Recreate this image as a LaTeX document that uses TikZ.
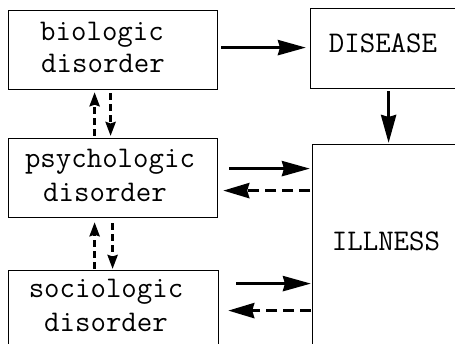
\documentclass[tikz,border=0pt]{standalone}
\usetikzlibrary{arrows.meta}
\begin{document}
\begin{tikzpicture}[x=1pt,y=-1pt,
  box/.style={draw,line width=1.2pt,anchor=north west,inner sep=0pt,minimum width=#1},
  lbl/.style={anchor=base,inner sep=0pt,font=\ttfamily\fontsize{30}{36}\selectfont},
  solidarr/.style={line width=3.5pt,-{Stealth[length=28pt,width=15pt,inset=2pt]}},
  hdash/.style={line width=3.5pt,dash pattern=on 11pt off 6pt,-{Stealth[length=26pt,width=15pt,inset=2pt]}},
  vdash/.style={line width=3pt,dash pattern=on 7pt off 4pt,-{Stealth[length=14pt,width=10pt,inset=1.5pt]}}
]
\useasboundingbox (0,0) rectangle (455,344);
% boxes
\node[box=209pt,minimum height=79pt] (bio) at (8,10) {};
\node[box=160pt,minimum height=80pt] (dis) at (310,8) {};
\node[box=209pt,minimum height=79pt] (psych) at (8,138) {};
\node[box=210pt,minimum height=90pt] (soc) at (8,270) {};
\node[box=160pt,minimum height=216pt] (ill) at (312,144) {};
% labels
\node[lbl] (t1) at (102,41) {biologic};
\node[lbl] (t2) at (103,73) {disorder};
\node[lbl] (t3) at (383,53) {DISEASE};
\node[lbl] (t4) at (110,168) {psychologic};
\node[lbl] (t5) at (105,202) {disorder};
\node[lbl] (t6) at (106,298) {sociologic};
\node[lbl] (t7) at (106,332) {disorder};
\node[lbl] (t8) at (386,251) {ILLNESS};
% connectors
\draw[solidarr] ([shift={(3,-2.5)}]bio.east) -- ([shift={(-4,-1)}]dis.west);
\draw[solidarr] ([shift={(-2,2)}]dis.south) -- ([shift={(-4,-1)}]ill.north);
\draw[vdash] ([shift={(-18.5,-2)}]psych.north) -- ([shift={(-18.5,2)}]bio.south);
\draw[vdash] ([shift={(-2.5,3)}]bio.south) -- ([shift={(-2.5,-2)}]psych.north);
\draw[vdash] ([shift={(-19,-1)}]soc.north) -- ([shift={(-18.5,4)}]psych.south);
\draw[vdash] ([shift={(-0.5,5)}]psych.south) -- ([shift={(-1,-1)}]soc.north);
\draw[solidarr] ([shift={(11,-9.5)}]psych.east) -- ([shift={(-2,-84)}]ill.west);
\draw[hdash] ([shift={(-2,-62)}]ill.west) -- ([shift={(5,12.5)}]psych.east);
\draw[solidarr] ([shift={(17,-32)}]soc.east) -- ([shift={(-1,31)}]ill.west);
\draw[hdash] ([shift={(-1,58)}]ill.west) -- ([shift={(9,-5)}]soc.east);
\end{tikzpicture}
\end{document}
